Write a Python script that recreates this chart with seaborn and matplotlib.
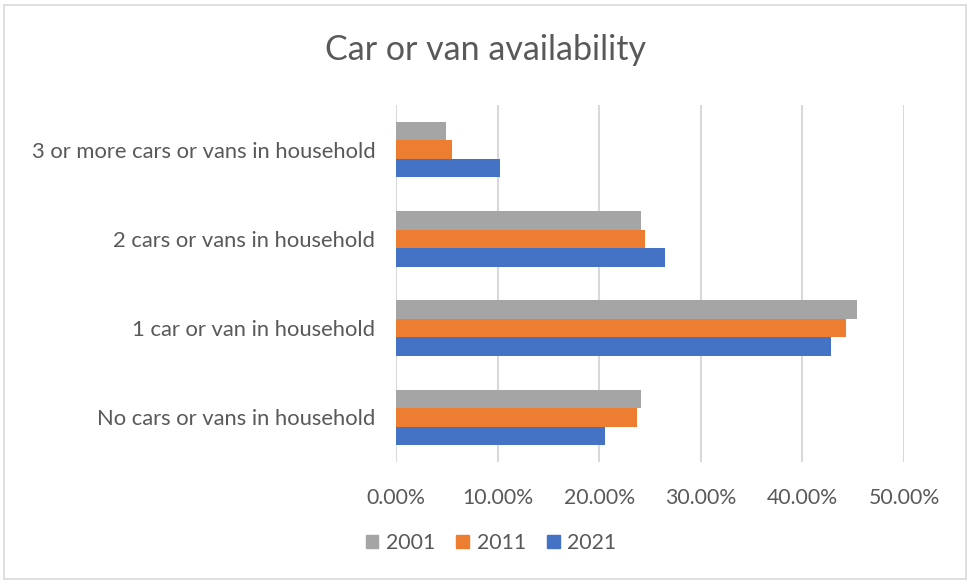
import matplotlib
matplotlib.use("Agg")
import matplotlib.pyplot as plt
import matplotlib.patches as mpatches
from matplotlib.ticker import FuncFormatter, MultipleLocator
import seaborn as sns
import pandas as pd

categories = ["3 or more cars or vans in household",
              "2 cars or vans in household",
              "1 car or van in household",
              "No cars or vans in household"]
years = ["2001", "2011", "2021"]
v2001 = [4.9, 24.1, 45.4, 24.1]
v2011 = [5.5, 24.5, 44.3, 23.7]
v2021 = [10.25, 26.5, 42.8, 20.6]
colors = ["#a5a5a5", "#ed7d31", "#4472c4"]

rows = []
for yr, vals in zip(years, [v2001, v2011, v2021]):
    for c, v in zip(categories, vals):
        rows.append({"category": c, "year": yr, "value": v})
df = pd.DataFrame(rows)

sns.set_theme(style="white")
plt.rcParams["font.family"] = ["Lato", "DejaVu Sans"]
txt = "#595959"

fig = plt.figure(figsize=(9.71, 5.83), dpi=100)
ax = fig.add_axes([396/971, 1-462/583, (904-396)/971, (462-105)/583])

sns.barplot(data=df, y="category", x="value", hue="year", order=categories,
            hue_order=years, palette=colors, width=0.62, orient="h",
            saturation=1, ax=ax, edgecolor="none", linewidth=0)

ax.set_xlim(0, 50)
ax.xaxis.set_major_locator(MultipleLocator(10))
ax.xaxis.set_major_formatter(FuncFormatter(lambda x, p: f"{x:.2f}%"))
ax.grid(axis="x", color="#d9d9d9", linewidth=1.5)
ax.set_axisbelow(True)
for s in ax.spines.values():
    s.set_visible(False)
ax.set_xlabel("")
ax.set_ylabel("")
ax.tick_params(axis="both", length=0, labelcolor=txt)
ax.tick_params(axis="x", pad=19, labelsize=15.3)
ax.tick_params(axis="y", pad=15, labelsize=15.8)

ax.get_legend().remove()
handles = [mpatches.Patch(color=c, label=y) for c, y in zip(colors, years)]
fig.legend(handles=handles, loc="center", bbox_to_anchor=(491/971, 1-543/583),
           ncol=3, frameon=False, fontsize=15.3, labelcolor=txt,
           handlelength=0.6, handleheight=0.6, handletextpad=0.35, columnspacing=1.0)

fig.text(485/971, 1-50/583, "Car or van availability", ha="center", va="center",
         fontsize=24.5, color=txt)

fig.patches.append(mpatches.Rectangle((4/971, 4/583), 962/971, 574/583,
                                      transform=fig.transFigure, fill=False,
                                      edgecolor="#d9d9d9", linewidth=1.2))

fig.savefig("out.png", dpi=100)
